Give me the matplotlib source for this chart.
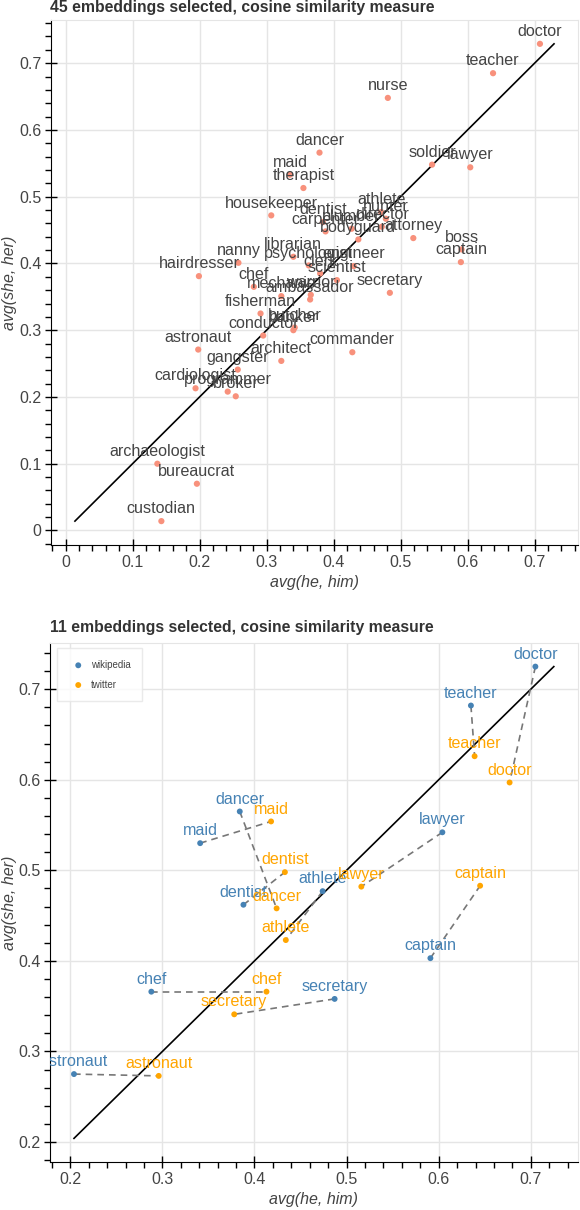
import numpy as np
import matplotlib
matplotlib.use("Agg")
import matplotlib.pyplot as plt
from matplotlib.ticker import MultipleLocator, AutoMinorLocator, FuncFormatter

plt.rcParams['font.family'] = ['Liberation Sans', 'DejaVu Sans']

# ---- top chart: 45 occupations ----
words = ["doctor", "teacher", "nurse", "dancer", "soldier", "lawyer", "maid", "therapist",
         "athlete", "hunter", "director", "housekeeper", "dentist", "carpenter", "plumber",
         "bodyguard", "attorney", "boss", "captain", "librarian", "nanny", "psychologist",
         "clerk", "engineer", "scientist", "hairdresser", "chef", "mechanic", "warrior",
         "secretary", "ambassador", "fisherman", "butcher", "banker", "conductor", "astronaut",
         "commander", "architect", "gangster", "cardiologist", "programmer", "broker",
         "archaeologist", "bureaucrat", "custodian"]
he = [0.708, 0.638, 0.481, 0.379, 0.547, 0.604, 0.335, 0.355,
      0.471, 0.478, 0.472, 0.307, 0.384, 0.388, 0.427,
      0.437, 0.519, 0.591, 0.590, 0.340, 0.258, 0.363,
      0.380, 0.430, 0.405, 0.199, 0.281, 0.322, 0.366,
      0.484, 0.365, 0.291, 0.342, 0.340, 0.295, 0.198,
      0.428, 0.322, 0.257, 0.194, 0.242, 0.254,
      0.137, 0.196, 0.143]
she = [0.729, 0.685, 0.648, 0.566, 0.548, 0.544, 0.533, 0.513,
       0.477, 0.467, 0.455, 0.472, 0.462, 0.448, 0.452,
       0.436, 0.438, 0.421, 0.402, 0.410, 0.401, 0.397,
       0.385, 0.396, 0.375, 0.381, 0.365, 0.351, 0.353,
       0.356, 0.346, 0.325, 0.304, 0.300, 0.292, 0.271,
       0.267, 0.254, 0.241, 0.213, 0.208, 0.201,
       0.100, 0.070, 0.014]

# ---- bottom chart: 11 occupations, two corpora ----
words2 = ["doctor", "teacher", "lawyer", "captain", "dancer", "maid", "dentist",
          "athlete", "chef", "secretary", "astronaut"]
wiki_he = [0.705, 0.635, 0.604, 0.591, 0.384, 0.341, 0.388, 0.474, 0.288, 0.487, 0.204]
wiki_she = [0.725, 0.682, 0.542, 0.403, 0.565, 0.530, 0.462, 0.477, 0.366, 0.358, 0.275]
tw_he = [0.677, 0.639, 0.516, 0.645, 0.424, 0.418, 0.433, 0.434, 0.413, 0.378, 0.296]
tw_she = [0.597, 0.626, 0.482, 0.483, 0.458, 0.554, 0.498, 0.423, 0.366, 0.341, 0.273]

wiki_col = "#4682b4"
tw_col = "#ffa500"
pt_col = "#f8917c"
txt_col = "#444444"


def fmt(v, pos):
    s = "%.1f" % v
    return "0" if s in ("0.0", "-0.0") else s


def style(ax, lo, hi):
    pad = 0.05 * (hi - lo)
    ax.set_xlim(lo - pad, hi + pad)
    ax.set_ylim(lo - pad, hi + pad)
    for a in (ax.xaxis, ax.yaxis):
        a.set_major_locator(MultipleLocator(0.1))
        a.set_minor_locator(AutoMinorLocator(5))
        a.set_major_formatter(FuncFormatter(fmt))
    ax.grid(True, color="#e5e5e5", lw=1)
    ax.set_axisbelow(True)
    for s in ("top", "right"):
        ax.spines[s].set_color("#e5e5e5")
    for s in ("left", "bottom"):
        ax.spines[s].set_color("black")
    ax.tick_params(which="major", direction="inout", length=8, width=1,
                   labelsize=11.5, labelcolor=txt_col, pad=3)
    ax.tick_params(which="minor", direction="out", length=4, width=1)
    ax.set_xlabel("avg(he, him)", fontsize=11.5, style="italic", color=txt_col)
    ax.set_ylabel("avg(she, her)", fontsize=11.5, style="italic", color=txt_col,
                  labelpad=1)
    ax.plot([lo, hi], [lo, hi], color="black", lw=1.2, zorder=2)


fig = plt.figure(figsize=(5.8, 12.1), dpi=100)

# top
ax1 = fig.add_axes([0.0879, 0.5496, 0.9086, 0.4339])
lo1 = min(min(he), min(she))
hi1 = max(max(he), max(she))
style(ax1, lo1, hi1)
ax1.scatter(he, she, s=20, color=pt_col, edgecolors="none", zorder=3)
for w, x, y in zip(words, he, she):
    ax1.annotate(w, (x, y), xytext=(0, 3.5), textcoords="offset points",
                 ha="center", va="bottom", fontsize=11.6, color=txt_col,
                 zorder=4, clip_on=True)
fig.text(0.086, 0.9935, "45 embeddings selected, cosine similarity measure",
         fontsize=11.3, fontweight="bold", color="#333333", va="center", ha="left")

# bottom
ax2 = fig.add_axes([0.0862, 0.0397, 0.910, 0.4289])
lo2 = min(wiki_he + wiki_she + tw_he + tw_she)
hi2 = max(wiki_he + wiki_she + tw_he + tw_she)
style(ax2, lo2, hi2)
for i in range(len(words2)):
    ax2.plot([wiki_he[i], tw_he[i]], [wiki_she[i], tw_she[i]], color="#777777",
             lw=1.2, dashes=(4, 3), zorder=2.5)
ax2.scatter(wiki_he, wiki_she, s=18, color=wiki_col, edgecolors="none", zorder=3,
            label="wikipedia")
ax2.scatter(tw_he, tw_she, s=18, color=tw_col, edgecolors="none", zorder=3,
            label="twitter")
for w, x, y in zip(words2, wiki_he, wiki_she):
    ax2.annotate(w, (x, y), xytext=(0, 3.5), textcoords="offset points",
                 ha="center", va="bottom", fontsize=11.6, color=wiki_col,
                 zorder=4, clip_on=True)
for w, x, y in zip(words2, tw_he, tw_she):
    ax2.annotate(w, (x, y), xytext=(0, 3.5), textcoords="offset points",
                 ha="center", va="bottom", fontsize=11.6, color=tw_col,
                 zorder=4, clip_on=True)
leg = ax2.legend(loc="upper left", bbox_to_anchor=(0.013, 0.99), borderaxespad=0,
                 fontsize=7, frameon=True, fancybox=False, edgecolor="#e5e5e5",
                 labelspacing=1.0, handletextpad=0.3, borderpad=1.2, markerscale=1.0)
for t in leg.get_texts():
    t.set_color(txt_col)
fig.text(0.086, 0.4818, "11 embeddings selected, cosine similarity measure",
         fontsize=11.3, fontweight="bold", color="#333333", va="center", ha="left")

fig.savefig("out.png", dpi=100)
